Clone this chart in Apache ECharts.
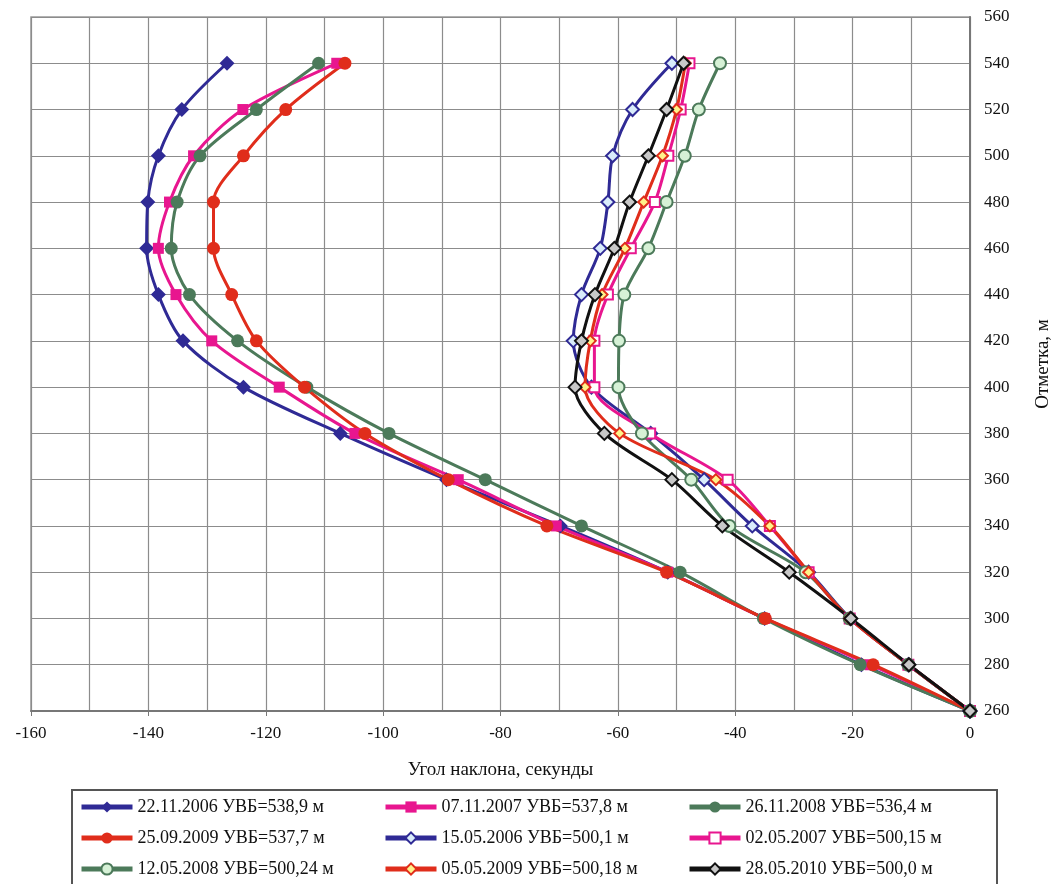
<!DOCTYPE html>
<html>
<head>
<meta charset="utf-8">
<script src="https://cdn.jsdelivr.net/npm/echarts@6/dist/echarts.min.js"></script>
<style>html,body{margin:0;padding:0;background:#fff;overflow:hidden;}#chart{width:1053px;height:884px;display:block;}</style>
</head>
<body>
<div id="chart"></div>
<script>
// Elevations (m)
const elevations = [540, 520, 500, 480, 460, 440, 420, 400, 380, 360, 340, 320, 300, 280, 260];
// Tilt angles (seconds) per survey
const s20061122 = [-126.6, -134.3, -138.3, -140.1, -140.3, -138.3, -134.1, -123.8, -107.3, -89.2, -69.8, -51.5, -35.0, -18.5, 0];
const s20071107 = [-107.9, -123.9, -132.3, -136.4, -138.3, -135.3, -129.2, -117.7, -104.8, -87.2, -70.5, -51.5, -35.0, -17.0, 0];
const s20081126 = [-111.0, -121.6, -131.2, -135.1, -136.1, -133.0, -124.8, -113.0, -99.0, -82.6, -66.2, -49.4, -35.2, -18.7, 0];
const s20090925 = [-106.5, -116.6, -123.8, -128.9, -128.9, -125.8, -121.6, -113.4, -103.1, -88.9, -72.1, -51.7, -34.9, -16.5, 0];
const s20060515 = [-50.8, -57.5, -60.9, -61.7, -63.0, -66.2, -67.6, -64.5, -54.4, -45.3, -37.1, -27.5, -20.4, -10.5, 0];
const s20070502 = [-47.8, -49.3, -51.4, -53.7, -57.8, -61.7, -64.0, -64.0, -54.5, -41.3, -34.1, -27.5, -20.5, -10.5, 0];
const s20080512 = [-42.6, -46.2, -48.6, -51.7, -54.8, -58.9, -59.8, -59.9, -55.9, -47.5, -41.0, -28.0, -20.5, -10.5, 0];
const s20090505 = [-48.5, -50.0, -52.4, -55.6, -58.8, -62.7, -64.7, -65.6, -59.7, -43.3, -34.1, -27.5, -20.5, -10.5, 0];
const s20100528 = [-48.8, -51.7, -54.8, -58.0, -60.6, -63.9, -66.2, -67.3, -62.3, -50.8, -42.2, -30.8, -20.3, -10.4, 0];

const names = [
  '22.11.2006 УВБ=538,9 м', '07.11.2007 УВБ=537,8 м', '26.11.2008 УВБ=536,4 м',
  '25.09.2009 УВБ=537,7 м', '15.05.2006 УВБ=500,1 м', '02.05.2007 УВБ=500,15 м',
  '12.05.2008 УВБ=500,24 м', '05.05.2009 УВБ=500,18 м', '28.05.2010 УВБ=500,0 м'
];
const xTicks = [-160, 0, 20];
const yTicks = [260, 560, 20];

const FONT = '"Liberation Serif", "DejaVu Serif", serif';
const BLUE = '#2f2a95', PINK = '#e8168f', GREEN = '#4c7a5a', RED = '#e02d1b', BLACK = '#111111';

function mk(name, vals, color, symbol, size, fill, bw) {
  return {
    name: name, type: 'line', smooth: 0.3,
    data: elevations.map((e, i) => [vals[i], e]),
    symbol: symbol, symbolSize: size, showSymbol: true,
    lineStyle: { color: color, width: 3 },
    itemStyle: { color: fill || color, borderColor: color, borderWidth: bw || 0 },
    emphasis: { disabled: true }
  };
}

const series = [
  mk(names[0], s20061122, BLUE, 'diamond', 15),
  mk(names[1], s20071107, PINK, 'rect', 11),
  mk(names[2], s20081126, GREEN, 'circle', 13),
  mk(names[3], s20090925, RED, 'circle', 13),
  mk(names[4], s20060515, BLUE, 'diamond', 13, '#d9ecfb', 2),
  mk(names[5], s20070502, PINK, 'rect', 10, '#ffffff', 2),
  mk(names[6], s20080512, GREEN, 'circle', 12, '#d6f1d6', 2),
  mk(names[7], s20090505, RED, 'diamond', 11, '#fff38a', 2),
  mk(names[8], s20100528, BLACK, 'diamond', 13, '#c8c8c8', 2)
];

function legendCol(left, items) {
  return {
    orient: 'vertical', left: left, top: 797, padding: 0, height: 86,
    itemWidth: 51, itemHeight: 14, itemGap: 11,
    lineStyle: { width: 5 },
    textStyle: { fontFamily: FONT, fontSize: 18, color: '#111', lineHeight: 20 },
    data: items, selectedMode: false
  };
}

const chart = echarts.init(document.getElementById('chart'), null, { renderer: 'canvas', width: 1053, height: 884 });
chart.setOption({
  animation: false,
  backgroundColor: '#ffffff',
  grid: { left: 31, right: 83, top: 17, bottom: 173, show: true, borderColor: '#999', borderWidth: 1.5, containLabel: false, outerBoundsMode: 'none' },
  xAxis: {
    type: 'value', min: xTicks[0], max: xTicks[1], interval: xTicks[2],
    name: 'Угол наклона, секунды', nameLocation: 'middle', nameGap: 50,
    nameTextStyle: { fontFamily: FONT, fontSize: 19, color: '#111' },
    axisLine: { show: true, onZero: false, lineStyle: { color: '#777', width: 2 } },
    axisTick: { show: true, length: 5, lineStyle: { color: '#777' } },
    axisLabel: { fontFamily: FONT, fontSize: 17, color: '#111', margin: 14 },
    splitLine: { show: true, lineStyle: { color: '#8c8c8c', width: 1.2 } },
    minorTick: { show: false, splitNumber: 2 },
    minorSplitLine: { show: true, lineStyle: { color: '#8c8c8c', width: 1.2 } }
  },
  yAxis: {
    type: 'value', position: 'right', min: yTicks[0], max: yTicks[1], interval: yTicks[2],
    name: 'Отметка, м', nameLocation: 'middle', nameGap: 64, nameRotate: 90,
    nameTextStyle: { fontFamily: FONT, fontSize: 19, color: '#111' },
    axisLine: { show: true, lineStyle: { color: '#777', width: 2 } },
    axisTick: { show: false },
    axisLabel: { fontFamily: FONT, fontSize: 17, color: '#111', margin: 14 },
    splitLine: { show: true, lineStyle: { color: '#8c8c8c', width: 1.2 } }
  },
  legend: [
    legendCol(79, [names[0], names[3], names[6]]),
    legendCol(383, [names[1], names[4], names[7]]),
    legendCol(687, [names[2], names[5], names[8]])
  ],
  graphic: [{
    type: 'rect', left: 71, top: 789, z: -1,
    shape: { width: 925, height: 110 },
    style: { fill: '#fff', stroke: '#555', lineWidth: 2 }
  }],
  series: series
});
</script>
</body>
</html>
